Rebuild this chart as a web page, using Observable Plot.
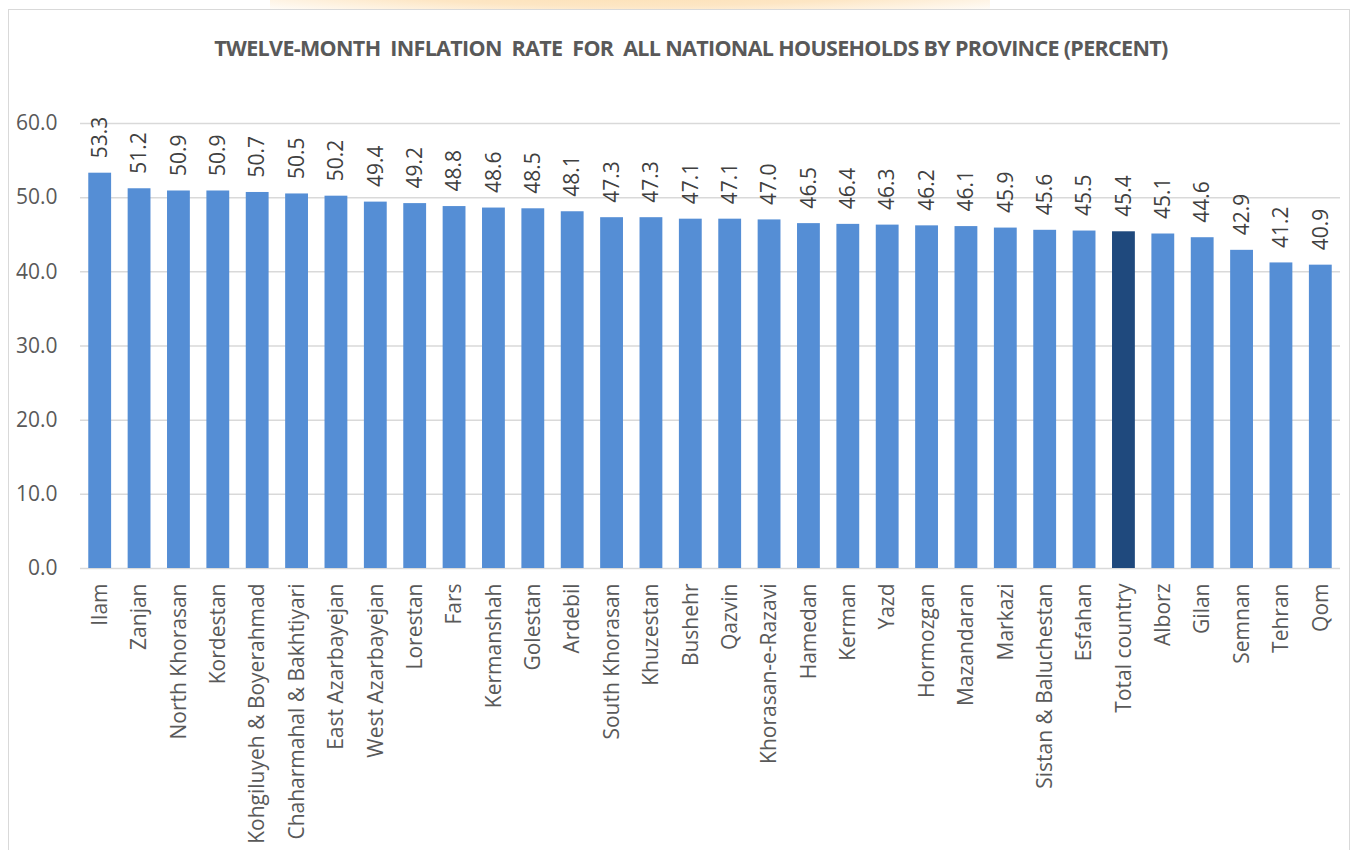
<!DOCTYPE html>
<html>
<head>
<meta charset="utf-8">
<script src="https://cdn.jsdelivr.net/npm/d3@7"></script>
<script src="https://cdn.jsdelivr.net/npm/@observablehq/plot@0.6"></script>
<style>
  html, body { margin: 0; padding: 0; background: #fff; overflow: hidden; }
  #wrap { position: relative; width: 1354px; height: 850px; }
  #blob { position: absolute; left: 270px; top: -40px; width: 720px; height: 52px;
          background: radial-gradient(ellipse at center, #fcdcaa 0%, #fde6c4 55%, rgba(255,255,255,0) 100%); }
  #frame { position: absolute; left: 8px; top: 9px; width: 1342px; height: 900px;
           border: 1px solid #d9d9d9; box-sizing: border-box; background: #fff; }
  #title { position: absolute; left: 0; top: 33px; width: 1382px; text-align: center;
           font-family: "Open Sans", sans-serif; font-weight: bold; letter-spacing: -0.67px;
           font-size: 21.5px; color: #595959; white-space: pre; }
  #chart { position: absolute; left: 0; top: 90px; }
</style>
</head>
<body>
<div id="wrap">
  <div id="blob"></div>
  <div id="frame"></div>
  <div id="title">TWELVE-MONTH  INFLATION  RATE  FOR  ALL NATIONAL HOUSEHOLDS BY PROVINCE (PERCENT)</div>
  <div id="chart"></div>
</div>
<script>
const provinces = ["Ilam","Zanjan","North Khorasan","Kordestan","Kohgiluyeh & Boyerahmad","Chaharmahal & Bakhtiyari","East Azarbayejan","West Azarbayejan","Lorestan","Fars","Kermanshah","Golestan","Ardebil","South Khorasan","Khuzestan","Bushehr","Qazvin","Khorasan-e-Razavi","Hamedan","Kerman","Yazd","Hormozgan","Mazandaran","Markazi","Sistan & Baluchestan","Esfahan","Total country","Alborz","Gilan","Semnan","Tehran","Qom"];
const rates = [53.3,51.2,50.9,50.9,50.7,50.5,50.2,49.4,49.2,48.8,48.6,48.5,48.1,47.3,47.3,47.1,47.1,47.0,46.5,46.4,46.3,46.2,46.1,45.9,45.6,45.5,45.4,45.1,44.6,42.9,41.2,40.9];
const yTicks = [0,10,20,30,40,50,60];
const highlight = "Total country";

const data = provinces.map((p, i) => ({province: p, rate: rates[i], total: p === highlight}));

const chart = Plot.plot({
  width: 1354,
  height: 760,
  marginLeft: 80,
  marginRight: 14,
  marginTop: 33,
  marginBottom: 282,
  style: {fontFamily: "'Open Sans', sans-serif", background: "transparent", overflow: "visible"},
  x: {domain: provinces, paddingInner: 0.42, paddingOuter: 0.21, round: false, label: null},
  y: {domain: [0, 60], label: null},
  marks: [
    Plot.gridY(yTicks, {stroke: "#d9d9d9", strokeOpacity: 1, strokeWidth: 1.5}),
    Plot.barY(data, {x: "province", y: "rate", fill: d => d.total ? "#1f497d" : "#558ed5"}),
    Plot.text(data, {x: "province", y: "rate", text: d => d.rate.toFixed(1), rotate: -90,
      textAnchor: "start", lineAnchor: "middle", dy: -15, fontSize: 21, fill: "#404040"}),
    Plot.axisY({ticks: yTicks, tickFormat: d => d.toFixed(1), tickSize: 0, tickPadding: 23,
      fontSize: 21, color: "#595959"}),
    Plot.axisX({tickSize: 0, tickPadding: 15, tickRotate: -90, fontSize: 21, color: "#595959"})
  ]
});
document.getElementById("chart").appendChild(chart);
</script>
</body>
</html>
